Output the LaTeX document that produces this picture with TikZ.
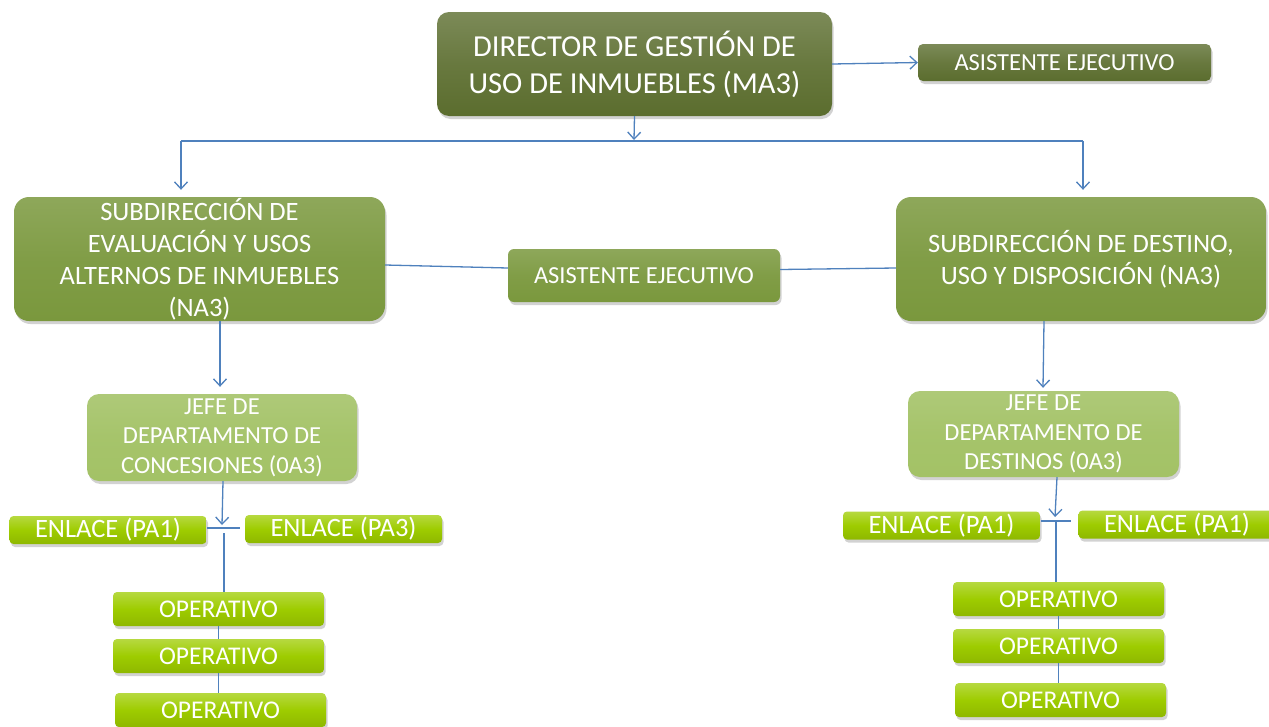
\documentclass[tikz,border=0pt]{standalone}
\usepackage{fontspec}
\setmainfont{Carlito}
\usetikzlibrary{arrows.meta,shadows,calc}

\definecolor{gdark}{HTML}{5B6D2E}
\definecolor{gmid}{HTML}{7A983D}
\definecolor{glight}{HTML}{A3C266}
\definecolor{gbright}{HTML}{9ECC00}
\definecolor{linkblue}{HTML}{4F81BD}

\tikzset{
  box/.style={rectangle, inner sep=0pt, text=white, align=center,
    drop shadow={shadow xshift=1.5pt, shadow yshift=-3pt, opacity=0.35}},
  darkbox/.style={box, top color=gdark!80!white, bottom color=gdark, middle color=gdark!92!white},
  midbox/.style={box, top color=gmid!85!white, bottom color=gmid, middle color=gmid!95!white},
  lightbox/.style={box, top color=glight!88!white, bottom color=glight, middle color=glight!97!white},
  brightbox/.style={box, top color=gbright!75!white, bottom color=gbright!90!black, middle color=gbright},
  link/.style={draw=linkblue, line width=1.3pt},
  arrowlink/.style={link, -{Straight Barb[length=7pt,width=13pt,line width=1.3pt]}},
}

\begin{document}
\begin{tikzpicture}[x=1pt, y=-1pt]
\clip (0,0) rectangle (1269,726);
\fill[white] (0,0) rectangle (1269,726);

% top level
\node[darkbox, rounded corners=12pt, minimum width=395pt, minimum height=104pt,
      font=\fontsize{30.5}{37}\selectfont] (dir) at (634.5,64)
  {DIRECTOR DE GESTIÓN DE\\USO DE INMUEBLES (MA3)};
\node[darkbox, rounded corners=5pt, minimum width=293pt, minimum height=37pt,
      font=\fontsize{24.5}{28}\selectfont] (asT) at (1064.5,62.5) {ASISTENTE EJECUTIVO};

% second level
\node[midbox, rounded corners=15pt, minimum width=371pt, minimum height=124pt,
      font=\fontsize{26.5}{32}\selectfont] (subL) at (199.5,259)
  {SUBDIRECCIÓN DE\\EVALUACIÓN Y USOS\\ALTERNOS DE INMUEBLES\\(NA3)};
\node[midbox, rounded corners=6pt, minimum width=272pt, minimum height=53pt,
      font=\fontsize{24.5}{28}\selectfont] (asM) at (644,275.5) {ASISTENTE EJECUTIVO};
\node[midbox, rounded corners=15pt, minimum width=370pt, minimum height=124pt,
      font=\fontsize{26.5}{32}\selectfont] (subR) at (1081,259)
  {SUBDIRECCIÓN DE DESTINO,\\USO Y DISPOSICIÓN (NA3)};

% department heads
\node[lightbox, rounded corners=12pt, minimum width=270pt, minimum height=87pt,
      font=\fontsize{24.5}{29.5}\selectfont] (jefeL) at (222,437.5)
  {JEFE DE\\DEPARTAMENTO DE\\CONCESIONES (0A3)};
\node[lightbox, rounded corners=12pt, minimum width=271pt, minimum height=86pt,
      font=\fontsize{24.5}{29.5}\selectfont] (jefeR) at (1043.5,434)
  {JEFE DE\\DEPARTAMENTO DE\\DESTINOS (0A3)};

% liaison boxes
\tikzset{enl/.style={brightbox, rounded corners=4pt, minimum width=197pt, minimum height=28pt,
      font=\fontsize{26.5}{30}\selectfont}}
\node[enl] (enL1) at (108,530) {ENLACE (PA1)};
\node[enl] (enL2) at (343.5,529) {ENLACE (PA3)};
\node[enl] (enR1) at (941.5,525.5) {ENLACE (PA1)};
\node[enl] (enR2) at (1177,524.5) {ENLACE (PA1)};

% operative staff
\tikzset{oper/.style={brightbox, rounded corners=4pt, minimum width=211pt, minimum height=34pt,
      font=\fontsize{25.5}{29}\selectfont}}
\node[oper] (opL1) at (218.5,609) {OPERATIVO};
\node[oper] (opL2) at (218.5,656) {OPERATIVO};
\node[oper] (opL3) at (220.5,710) {OPERATIVO};
\node[oper] (opR1) at (1058.5,599) {OPERATIVO};
\node[oper] (opR2) at (1058.5,646) {OPERATIVO};
\node[oper] (opR3) at (1060.5,700) {OPERATIVO};

% junction points
\coordinate (bus) at (634,141);
\coordinate (busL) at (181,141);
\coordinate (busR) at (1083,141);
\coordinate (tLa) at (207,528);
\coordinate (tLb) at (240,528);
\coordinate (tLtop) at (224,533);
\coordinate (tRa) at (1041,521);
\coordinate (tRb) at (1071,521);
\coordinate (tRtop) at (1056,521);

% connectors, top
\draw[arrowlink] (dir.east) -- (asT.west);
\draw[arrowlink] (dir.south) -- ($(bus)+(0,-1)$);
\draw[link] (busL) -- (busR);
\draw[arrowlink] (busL) -- ($(busL |- subL.north)+(0,-7)$);
\draw[arrowlink] (busR) -- ($(busR |- subR.north)+(0,-7)$);

% connectors through the middle assistant
\draw[link] ($(subL.east)+(0,6)$) -- ($(asM.west)+(0,-7.5)$);
\draw[link] ($(asM.east)+(0,-6)$) -- ($(subR.west)+(0,9)$);

% left branch
\draw[arrowlink] (subL.south -| 220,0) -- ($(jefeL.north -| 220,0)+(0,-7)$);
\draw[arrowlink] (jefeL.south -| 223,0) -- ($(tLa -| 222,0)+(0,-3)$);
\draw[link] (tLa) -- (tLb);
\draw[link] (tLtop) -- (opL1.north -| tLtop);
\draw[link] (opL1.south) -- (opL2.north);
\draw[link] (opL2.south) -- (opL3.north -| opL2.south);

% right branch
\draw[arrowlink] (subR.south -| 1044,0) -- ($(jefeR.north -| 1043,0)+(0,-3)$);
\draw[arrowlink] (jefeR.south -| 1057,0) -- ($(tRa -| 1055,0)+(0,-4)$);
\draw[link] (tRa) -- (tRb);
\draw[link] (tRtop) -- (opR1.north -| tRtop);
\draw[link] (opR1.south) -- (opR2.north);
\draw[link] (opR2.south) -- (opR3.north -| opR2.south);
\end{tikzpicture}
\end{document}
